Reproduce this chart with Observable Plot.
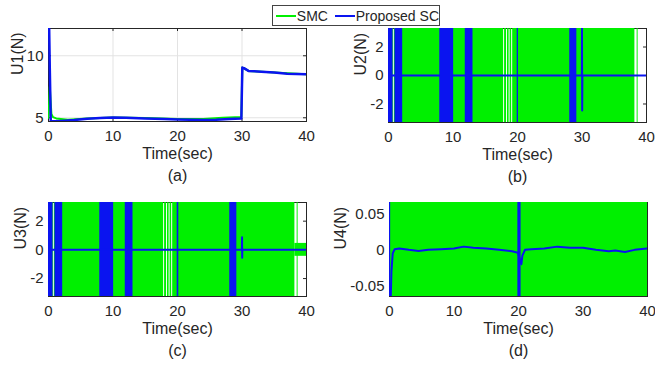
<!DOCTYPE html>
<html><head><meta charset="utf-8">
<script src="https://cdn.jsdelivr.net/npm/d3@7"></script>
<script src="https://cdn.jsdelivr.net/npm/@observablehq/plot@0.6"></script>
<style>
body{margin:0;background:#fff;font-family:"Liberation Sans",Arial,sans-serif;}
#wrap{position:relative;width:655px;height:367px;overflow:hidden;background:#fff}
.panel{position:absolute}
#legend{position:absolute;left:272px;top:5px;width:166px;height:19px;border:1px solid #444;background:#fff;font-size:14px;color:#262626;display:flex;align-items:center;z-index:5;white-space:nowrap}
.sw{display:inline-block;width:21px;height:0;border-top:2px solid;margin:0 1px 0 3px}
</style></head>
<body><div id="wrap"></div>
<script>
// ---------- data ----------
const seriesNames = ["SMC", "Proposed SC"];
const seriesColors = ["#00f000", "#0a14f0"];
const timeTicks = [0, 10, 20, 30, 40];
const u1Ticks = [5, 10];
const u23Ticks = [-2, 0, 2];
const u4Ticks = [-0.05, 0, 0.05];
const yLabels = ["U1(N)", "U2(N)", "U3(N)", "U4(N)"];
const captions = ["(a)", "(b)", "(c)", "(d)"];
const xLabel = "Time(sec)";

// U1 (panel a)
const u1PropTime = [0,0.1,0.2,0.35,1,2,4,6,8,10,12,15,18,20,22,24,26,28,29.9,30.05,30.3,31,33,35,37,40];
const u1Prop     = [12.3,12.3,9,4.75,4.72,4.75,4.82,4.92,4.98,5.02,5.0,4.95,4.9,4.87,4.84,4.83,4.85,4.9,4.95,9.05,9.0,8.78,8.72,8.65,8.56,8.5];
const u1SmcTime  = [0,0.1,0.2,0.3,0.45,0.7,1.2,3,6,10,15,20,24,27,29.9,30.05,30.3,31,35,40];
const u1Smc      = [5.0,6.2,7.5,6.6,5.3,5.05,4.95,4.85,4.95,5.03,4.98,4.9,4.9,5.0,5.06,9.05,9.0,8.78,8.65,8.5];

// U2 (panel b): chattering bands [t0, t1, low, high]
const u2SmcBands  = [[0,0.75,-3.3,3.3],[0.9,17.85,-3.3,3.3],[18.0,18.3,-3.3,3.3],[18.45,18.7,-3.3,3.3],[18.85,19.1,-3.3,3.3],[19.25,38.2,-3.3,3.3],[38.55,38.7,-3.3,3.3]];
const u2PropBands = [[0,0.7,-3.3,3.3],[1.0,2.2,-3.3,3.3],[7.95,10.1,-3.3,3.3],[11.9,13.1,-3.3,3.3],[19.95,20.15,-3.3,3.3],[28.1,29.2,-3.3,3.3]];
const u2PropTime  = [0,29.98,30.0,30.03,30.06,40];
const u2Prop      = [0,0,3.3,-2.45,0,0];

// U3 (panel c)
const u3SmcBands  = [[0,0.75,-3.3,3.3],[0.9,17.85,-3.3,3.3],[18.0,18.3,-3.3,3.3],[18.45,18.7,-3.3,3.3],[18.85,19.1,-3.3,3.3],[19.25,38.2,-3.3,3.3],[38.2,40,-0.45,0.45],[38.55,38.7,-3.3,3.3]];
const u3PropBands = [[0,0.7,-3.3,3.3],[1.0,2.2,-3.3,3.3],[7.95,10.1,-3.3,3.3],[11.9,13.1,-3.3,3.3],[19.95,20.2,-3.3,3.3],[28.1,29.2,-3.3,3.3]];
const u3PropTime  = [0,29.99,30.01,30.03,30.05,40];
const u3Prop      = [0,0,0.88,-0.55,0,0];

// U4 (panel d)
const u4SmcBands  = [[0,40,-0.066,0.066]];
const u4PropBands = [[0,0.18,-0.066,0.066],[19.9,20.4,-0.066,0.066]];
const u4PropTime  = [0.2,0.3,0.5,0.8,1.5,3,4.5,6,8,10,11.5,13,15,17,19,19.9,20.45,20.6,21,22,24,26,28,30,32,34,35,36.5,38,40];
const u4Prop      = [-0.066,-0.03,-0.005,0.001,0.002,0.0,-0.0015,0.0,0.001,0.002,0.0045,0.003,0.002,0.0,-0.002,-0.004,-0.02,-0.008,0.0,0.001,0.002,0.0045,0.003,0.003,0.0,-0.002,-0.001,-0.003,0.0,0.002];

// ---------- drawing ----------
const ink = "#262626";
const zipTV = (t, v) => t.map((x, i) => ({t: x, v: v[i]}));

function panel(o) {
  const fw = o.width - o.ml - o.mr, fh = o.height - o.mt - o.mb;
  const marks = [];
  if (o.grid) {
    marks.push(Plot.ruleX(timeTicks, {x: d => d, stroke: "#e3e3e3", strokeWidth: 1}));
    marks.push(Plot.ruleY(o.yTicks, {y: d => d, stroke: "#e3e3e3", strokeWidth: 1}));
  }
  marks.push(Plot.frame({stroke: ink, strokeWidth: 1}));
  marks.push(Plot.ruleX(timeTicks, {x: d => d, insetTop: fh - 3, stroke: ink}));
  marks.push(Plot.ruleX(timeTicks, {x: d => d, insetBottom: fh - 3, stroke: ink}));
  marks.push(Plot.ruleY(o.yTicks, {y: d => d, insetRight: fw - 3, stroke: ink}));
  marks.push(Plot.ruleY(o.yTicks, {y: d => d, insetLeft: fw - 3, stroke: ink}));
  marks.push(...o.data);
  marks.push(Plot.axisX(timeTicks, {tickSize: 0, tickPadding: 9, fontSize: 15, tickFormat: d => String(d), label: null, fill: ink}));
  marks.push(Plot.axisY(o.yTicks, {tickSize: 0, tickPadding: 5, fontSize: 15, tickFormat: d => String(d), label: null, fill: ink}));
  marks.push(Plot.text([xLabel], {text: d => d, frameAnchor: "bottom", dy: 37, fontSize: 16, fill: ink}));
  marks.push(Plot.text([o.caption], {text: d => d, frameAnchor: "bottom", dy: 59, fontSize: 16, fill: ink}));
  marks.push(Plot.text([o.ylabel], {text: d => d, frameAnchor: "left", rotate: -90, dx: o.ylabelDx, fontSize: 16, fill: ink}));
  const svg = Plot.plot({
    width: o.width, height: o.height,
    marginLeft: o.ml, marginRight: o.mr, marginTop: o.mt, marginBottom: o.mb,
    x: {domain: [0, 40]},
    y: {domain: o.yDomain},
    style: {fontFamily: '"Liberation Sans", Arial, sans-serif', color: ink, background: "transparent", overflow: "visible"},
    marks
  });
  const div = document.createElement("div");
  div.className = "panel";
  div.style.left = o.left + "px";
  div.style.top = o.top + "px";
  div.appendChild(svg);
  document.getElementById("wrap").appendChild(div);
}

const bandRect = (bands, fill) => Plot.rect(bands, {x1: d => d[0], x2: d => d[1], y1: d => d[2], y2: d => d[3], fill, clip: true});
const lineTV = (t, v, stroke, w) => Plot.line(zipTV(t, v), {x: "t", y: "v", stroke, strokeWidth: w, clip: true});

panel({left: 0, top: 0, width: 330, height: 190, ml: 48, mr: 24, mt: 28, mb: 69,
  yDomain: [4.7, 12.2], yTicks: u1Ticks, ylabel: yLabels[0], caption: captions[0], ylabelDx: -31, grid: true,
  data: [lineTV(u1SmcTime, u1Smc, seriesColors[0], 2), lineTV(u1PropTime, u1Prop, seriesColors[1], 2.5)]});

panel({left: 330, top: 0, width: 325, height: 190, ml: 58, mr: 9, mt: 28, mb: 68,
  yDomain: [-3.3, 3.3], yTicks: u23Ticks, ylabel: yLabels[1], caption: captions[1], ylabelDx: -28,
  data: [bandRect(u2SmcBands, seriesColors[0]), bandRect(u2PropBands, seriesColors[1]), lineTV(u2PropTime, u2Prop, seriesColors[1], 2)]});

panel({left: 0, top: 180, width: 330, height: 187, ml: 48, mr: 24, mt: 22, mb: 71,
  yDomain: [-3.25, 3.3], yTicks: u23Ticks, ylabel: yLabels[2], caption: captions[2], ylabelDx: -28,
  data: [bandRect(u3SmcBands, seriesColors[0]), bandRect(u3PropBands, seriesColors[1]), lineTV(u3PropTime, u3Prop, seriesColors[1], 2)]});

panel({left: 330, top: 180, width: 325, height: 187, ml: 59, mr: 8, mt: 22, mb: 71,
  yDomain: [-0.065, 0.066], yTicks: u4Ticks, ylabel: yLabels[3], caption: captions[3], ylabelDx: -49,
  data: [bandRect(u4SmcBands, seriesColors[0]), bandRect(u4PropBands, seriesColors[1]), lineTV(u4PropTime, u4Prop, seriesColors[1], 2)]});

// legend
const legend = document.createElement("div");
legend.id = "legend";
legend.innerHTML = seriesNames.map((n, i) =>
  `<span class="sw" style="border-color:${seriesColors[i]}"></span><span style="margin-right:${i === 0 ? 4 : 0}px">${n}</span>`).join("");
document.getElementById("wrap").appendChild(legend);
</script>
</body></html>
